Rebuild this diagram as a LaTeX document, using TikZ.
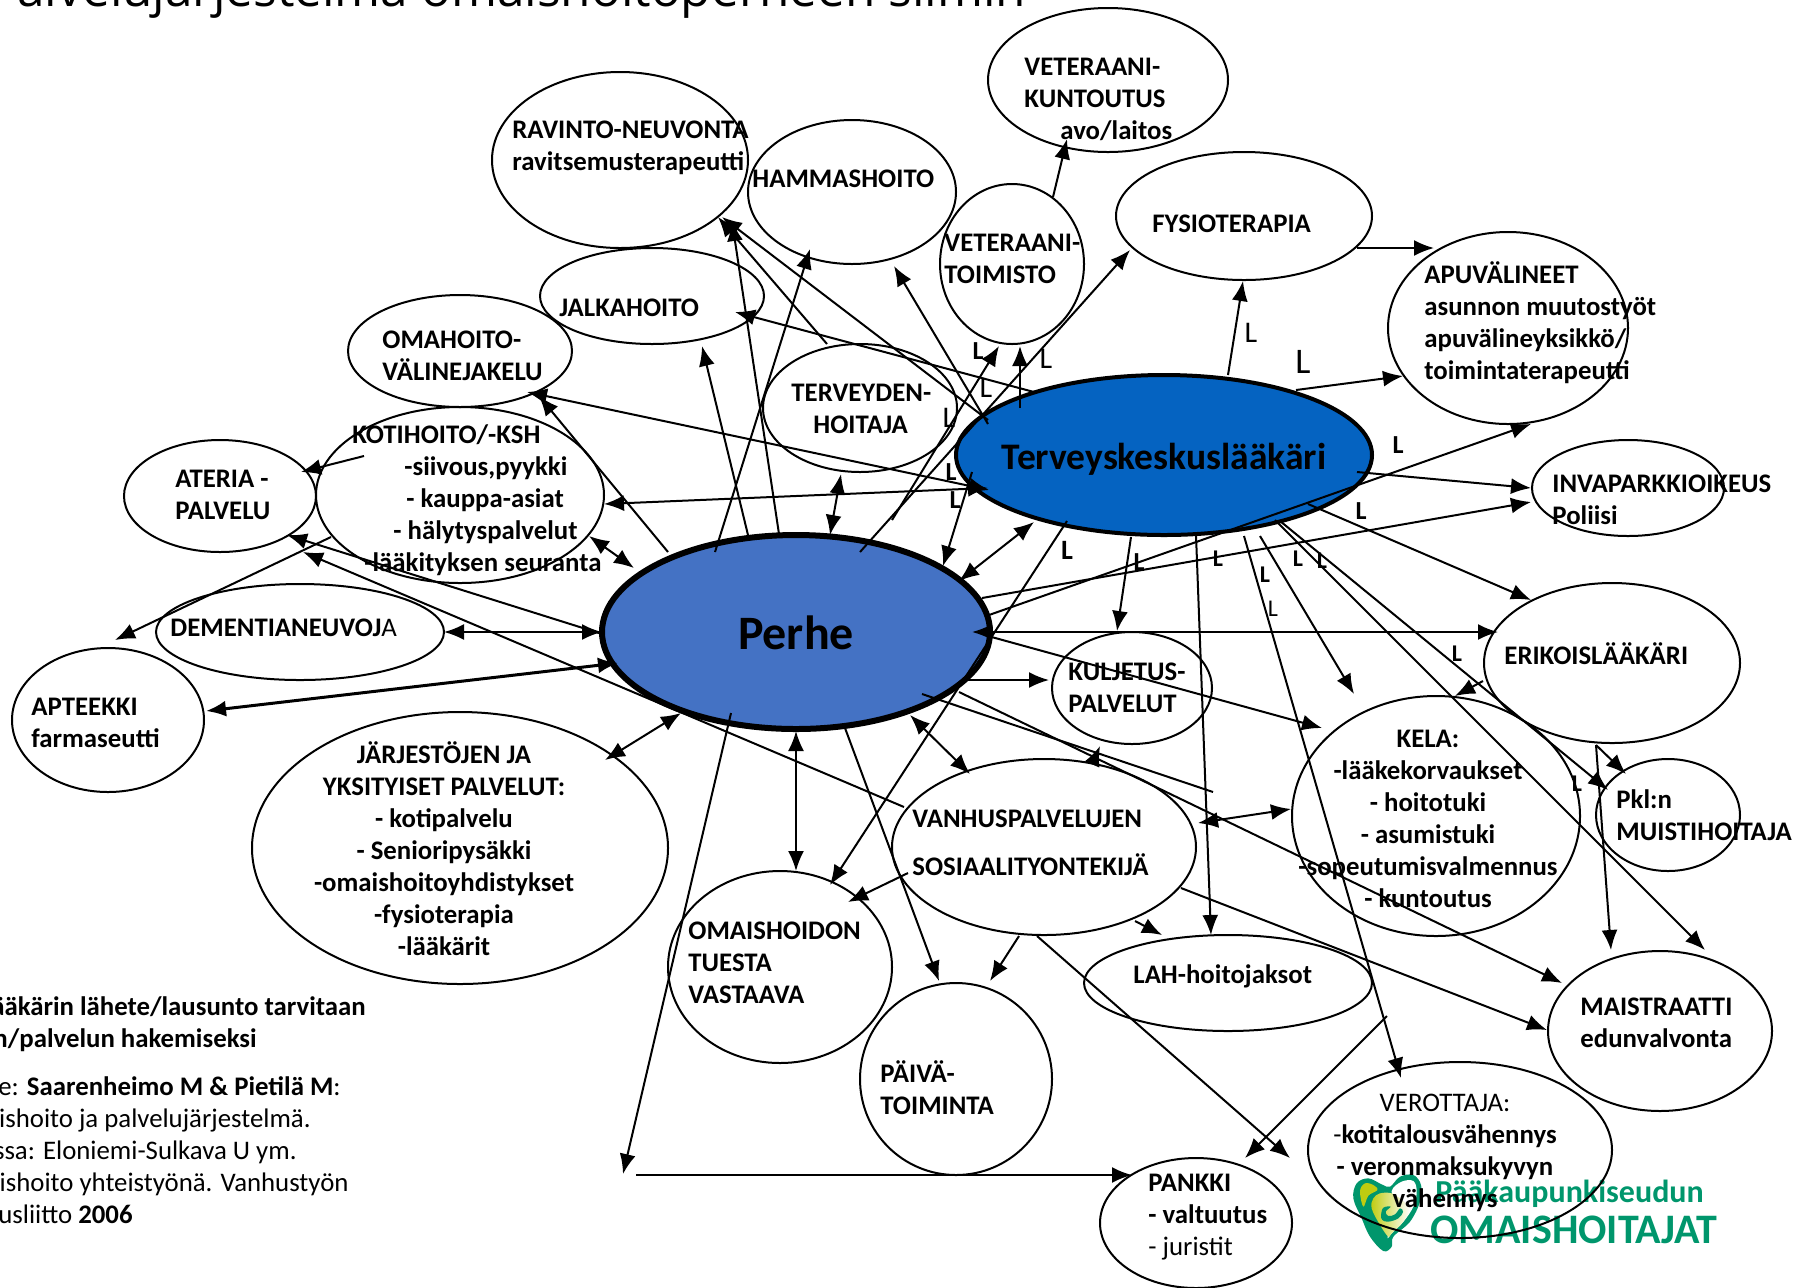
\documentclass[tikz,border=0pt]{standalone}
\usepackage{fontspec}
\setmainfont{Carlito}
\newfontfamily\titlefont{Open Sans}
\usetikzlibrary{arrows.meta,shapes.geometric}
\definecolor{perheblue}{HTML}{4472C4}
\definecolor{tkblue}{HTML}{0563C1}
\definecolor{logogreen}{HTML}{00966C}
\definecolor{logoyellow}{HTML}{BFCC10}
\tikzset{
  el/.style n args={2}{ellipse,draw,line width=1pt,inner sep=0pt,minimum width=#1pt,minimum height=#2pt},
  txt/.style={anchor=north west,yshift=8.4pt,inner sep=0pt,align=left,font=\fontsize{13.4}{16}\selectfont\bfseries,execute at begin node=\strut},
  txtc/.style={txt,anchor=north,align=center},
  note/.style={anchor=base east,inner sep=0pt,font=\fontsize{13.4}{16}\selectfont},
  lbl/.style={inner sep=0pt,font=\fontsize{13}{16}\selectfont\bfseries},
  lbr/.style={inner sep=0pt,font=\fontsize{15}{16}\selectfont},
  cn/.style={line width=1pt,-{Latex[length=10pt,width=8pt]}},
  cb/.style={line width=1pt,{Latex[length=10pt,width=8pt]}-{Latex[length=10pt,width=8pt]}},
  cp/.style={line width=1pt},
}
\newcommand\lnk[5][cn]{\draw[#1] ([shift={(#3)}]#2.center) -- ([shift={(#5)}]#4.center);}
\begin{document}
\begin{tikzpicture}[x=0.5pt,y=-0.5pt]
\useasboundingbox (0,0) rectangle (1808,1287);
% title
\node[anchor=base west,inner sep=0pt,font=\titlefont\fontsize{24.75}{28}\selectfont] (title) at (17,6) {alvelujärjestelmä omaishoitoperheen silmin};
% logo
\begin{scope}[shift={(1345,1165)},x=0.16667pt,y=-0.16667pt]
  \fill[logogreen] plot[smooth cycle,tension=0.6] coordinates {(115,258) (75,215) (50,160) (25,100) (35,55) (70,40) (110,58) (135,65) (165,35) (205,30) (228,60) (225,110) (195,170) (145,215) (140,245)};
  \fill[white] plot[smooth cycle,tension=0.6] coordinates {(140,78) (170,50) (205,48) (215,80) (205,125) (175,170) (140,205) (128,215) (150,130)};
  \fill[logoyellow] plot[smooth cycle,tension=0.6] coordinates {(45,78) (60,55) (85,60) (97,75) (70,92) (55,125)};
  \shade[left color=logoyellow,right color=white] plot[smooth cycle,tension=0.6] coordinates {(80,130) (85,100) (105,85) (140,85) (170,105) (195,130) (175,170) (140,205) (130,215) (105,180)};
  \fill[logogreen] plot[smooth cycle,tension=0.6] coordinates {(108,150) (115,128) (137,125) (122,140) (130,153) (150,148) (165,130) (174,140) (160,160) (130,170) (112,165)};
\end{scope}
\node[anchor=base west,inner sep=0pt,text=logogreen,font=\fontsize{16}{18}\selectfont\bfseries] (logo1) at (1435,1202) {Pääkaupunkiseudun};
\node[anchor=base west,inner sep=0pt,text=logogreen,font=\fontsize{21}{24}\selectfont\bfseries] (logo2) at (1430,1243) {OMAISHOITAJAT};
% ellipses
\node[el={128}{88}] (ravinto) at (620,160) {};
\node[el={104}{72}] (hamma) at (852,192) {};
\node[el={112}{48}] (jalka) at (652,296) {};
\node[el={112}{56}] (oma) at (460,351) {};
\node[el={144}{88}] (koti) at (460,495) {};
\node[el={96}{56}] (ateria) at (220,496) {};
\node[el={97}{64}] (tervh) at (860,408) {};
\node[el={144}{48}] (dem) at (300,632) {};
\node[el={96}{72}] (apt) at (108,720) {};
\node[el={208}{136}] (jarj) at (460,848) {};
\node[el={112}{96}] (omais) at (780,967) {};
\node[el={96}{96}] (paiva) at (956,1079) {};
\node[el={152}{88}] (vanh) at (1044,847) {};
\node[el={80}{56}] (kulj) at (1132,688) {};
\node[el={144}{48}] (lah) at (1228,983) {};
\node[el={144}{120}] (kela) at (1436,816) {};
\node[el={128}{80}] (erik) at (1612,663) {};
\node[el={72}{56}] (pkl) at (1668,815) {};
\node[el={112}{80}] (mais) at (1660,1031) {};
\node[el={152}{88}] (vero) at (1460,1150) {};
\node[el={96}{65}] (pankki) at (1196,1223) {};
\node[el={120}{72}] (vetk) at (1108,80) {};
\node[el={72}{80}] (vett) at (1012,264) {};
\node[el={128}{64}] (fys) at (1244,216) {};
\node[el={120}{96}] (apu) at (1508,328) {};
\node[el={96}{48}] (inva) at (1628,488) {};
\node[el={208}{80},line width=2pt,fill=tkblue] (tk) at (1164,455) {};
\node[el={194}{97},line width=3pt,fill=perheblue] (perhe) at (796,632) {};
% free ends
\coordinate (pankkicorner) at (623,1174);
\coordinate (linestart) at (636,1175);
% connectors
\lnk{koti}{-96,-39}{ateria}{81,-24}
\lnk{perhe}{-128,-80}{oma}{79,45}
\lnk[cb]{oma}{67,41}{tk}{-175,35}
\lnk[cb]{koti}{144,9}{tk}{-176,33}
\lnk{perhe}{-48,-97}{jalka}{50,50}
\lnk{perhe}{-17,-98}{ravinto}{112,61}
\lnk{perhe}{-81,-80}{hamma}{-42,57}
\lnk{tervh}{-33,-64}{ravinto}{98,57}
\lnk{tk}{-176,-35}{ravinto}{102,57}
\lnk{tk}{-176,-31}{hamma}{42,74}
\lnk{tk}{-130,-63}{jalka}{83,16}
\lnk[cb]{tervh}{-19,66}{perhe}{34,-97}
\lnk{perhe}{64,-80}{fys}{-114,34}
\lnk{perhe}{96,-112}{vett}{-13,82}
\lnk{tk}{-144,-47}{vett}{8,82}
\lnk{vett}{41,-67}{vetk}{-41,59}
\lnk{fys}{113,32}{apu}{-74,-80}
\lnk{tk}{64,-80}{fys}{-1,65}
\lnk{tk}{132,-65}{apu}{-105,48}
\lnk{perhe}{193,-17}{apu}{23,96}
\lnk{tk}{193,17}{inva}{-97,0}
\lnk{perhe}{186,-34}{inva}{-97,14}
\lnk{tk}{144,49}{erik}{-81,-63}
\lnk[cb]{tk}{-130,67}{perhe}{163,-51}
\lnk{tk}{-192,17}{perhe}{147,-66}
\lnk{tk}{-33,82}{kulj}{-15,-57}
\lnk{tk}{32,80}{lah}{-17,-48}
\lnk{tk}{80,81}{vero}{-59,-72}
\lnk{tk}{96,81}{kela}{-82,-122}
\lnk{tk}{111,65}{mais}{45,-81}
\lnk{tk}{116,66}{pkl}{-60,-25}
\lnk{erik}{-129,18}{kela}{19,-120}
\lnk{erik}{-16,82}{pkl}{-42,-41}
\lnk{erik}{-16,82}{mais}{-49,-81}
\lnk[cb]{perhe}{176,0}{erik}{-114,-31}
\lnk{perhe}{192,4}{kela}{-114,-88}
\lnk{perhe}{169,48}{kulj}{-83,-8}
\lnk[cb]{perhe}{114,83}{vanh}{-74,-73}
\lnk{vanh}{50,-87}{kulj}{-32,58}
\lnk[cp]{perhe}{126,62}{vanh}{169,-55}
\lnk{perhe}{163,60}{mais}{-98,-48}
\lnk[cb]{vanh}{154,-24}{kela}{-145,-7}
\lnk{vanh}{91,74}{lah}{-66,-48}
\lnk{vanh}{-25,89}{paiva}{34,-98}
\lnk{perhe}{49,96}{paiva}{-17,-98}
\draw[cn] ([shift={(-65,81)}]perhe.center) -- (pankkicorner);
\draw[cn] (linestart) -- ([shift={(-64,-48)}]pankki.center);
\lnk[cb]{perhe}{0,99}{omais}{16,-96}
\lnk{tk}{-97,66}{omais}{50,-82}
\lnk{vanh}{-136,26}{omais}{68,-65}
\lnk{vanh}{-7,89}{pankki}{94,-65}
\lnk{lah}{159,33}{pankki}{49,-65}
\lnk{vanh}{137,41}{mais}{-113,-1}
\lnk[cb]{jarj}{145,-88}{perhe}{-115,81}
\lnk[cb,line width=1.5pt]{apt}{98,-9}{perhe}{-178,31}
\lnk[cb]{dem}{144,0}{perhe}{-194,0}
\lnk{perhe}{-194,2}{ateria}{67,39}
\lnk{vanh}{-140,-40}{ateria}{83,56}
\lnk{koti}{-129,42}{apt}{7,-80}
\lnk[cb]{koti}{129,41}{perhe}{-162,-64}
% texts
\node[txt] (travinto) at (512,137) {RAVINTO-NEUVONTA\\ravitsemusterapeutti};
\node[txt] (thamma) at (752,181) {HAMMASHOITO};
\node[txt] (tjalka) at (559,310) {JALKAHOITO};
\node[txt] (toma) at (382,347) {OMAHOITO-\\VÄLINEJAKELU};
\node[txt] (tkoti) at (352,441) {KOTIHOITO/-KSH\\\hspace*{26pt}-siivous,pyykki\\\hspace*{27pt}- kauppa-asiat\\\hspace*{20.5pt}- hälytyspalvelut\\\hspace*{6pt}-lääkityksen seuranta};
\node[txt] (tateria) at (175,487) {ATERIA -\\PALVELU};
\node[txt] (ttervh) at (791,401) {TERVEYDEN-\\\hspace*{11pt}HOITAJA};
\node[txt] (tdem) at (170,630) {DEMENTIANEUVOJ\textmd{A}};
\node[txt] (tapt) at (31,715) {APTEEKKI\\farmaseutti};
\node[txtc] (tjarj) at (444,758) {JÄRJESTÖJEN JA\\YKSITYISET PALVELUT:\\- kotipalvelu\\- Senioripysäkki\\-omaishoitoyhdistykset\\-fysioterapia\\-lääkärit};
\node[txt] (tomais) at (688,938) {OMAISHOIDON\\TUESTA\\VASTAAVA};
\node[txt] (tpaiva) at (880,1077) {PÄIVÄ-\\TOIMINTA};
\node[txt] (tvanh) at (912,826) {VANHUSPALVELUJEN\\[8pt]SOSIAALITYONTEKIJÄ};
\node[txt] (tkulj) at (1068,679) {KULJETUS-\\PALVELUT};
\node[txt] (tlah) at (1133,977) {LAH-hoitojaksot};
\node[txtc] (tkela) at (1428,746) {KELA:\\-lääkekorvaukset\\- hoitotuki\\- asumistuki\\-sopeutumisvalmennus\\- kuntoutus};
\node[txt] (terik) at (1504,658) {ERIKOISLÄÄKÄRI};
\node[txt] (tpkl) at (1616,806) {Pkl:n\\MUISTIHOITAJA};
\node[txt] (tmais) at (1580,1014) {MAISTRAATTI\\edunvalvonta};
\node[txtc] (tvero) at (1445,1110) {\textmd{VEROTTAJA:}\\\textmd{-}kotitalousvähennys\\- veronmaksukyvyn\\vähennys};
\node[txt] (tpankki) at (1148,1190) {PANKKI\\- valtuutus\\\textmd{- juristit}};
\node[txt] (tvetk) at (1024,75) {VETERAANI-\\KUNTOUTUS\\\hspace*{18pt}avo/laitos};
\node[txt] (tvett) at (944,251) {VETERAANI-\\TOIMISTO};
\node[txt] (tfys) at (1152,226) {FYSIOTERAPIA};
\node[txt] (tapu) at (1424,278) {APUVÄLINEET\\asunnon muutostyöt\\apuvälineyksikkö/\\toimintaterapeutti};
\node[txt] (tinva) at (1552,491) {INVAPARKKIOIKEUS\\Poliisi};
\node[anchor=base,inner sep=0pt,font=\fontsize{24}{28}\selectfont\bfseries] (tperhe) at (796,649) {Perhe};
\node[anchor=base,inner sep=0pt,font=\fontsize{18.75}{20}\selectfont\bfseries] (ttk) at (1164,469) {Terveyskeskuslääkäri};
% notes
\node[note] (n1) at (366,1015) {\bfseries ääkärin lähete/lausunto tarvitaan};
\node[note] (n2) at (257,1047) {\bfseries n/palvelun hakemiseksi};
\node[note] (n3) at (341,1095) {le: \textbf{Saarenheimo M \& Pietilä M}:};
\node[note] (n4) at (311,1127) {ishoito ja palvelujärjestelmä.};
\node[note] (n5) at (297,1159) {ssa: Eloniemi-Sulkava U ym.};
\node[note] (n6) at (349,1191) {ishoito yhteistyönä. Vanhustyön};
\node[note] (n7) at (133,1223) {usliitto \textbf{2006}};
% L marks
\node[lbl] (l1) at (978,351) {L};
\node[lbr] (l2) at (986,388) {L};
\node[lbr] (l3) at (1046,359) {L};
\node[lbr] (l4) at (949,418) {L};
\node[lbl] (l5) at (951,472) {L};
\node[lbl] (l6) at (955,500) {L};
\node[lbr] (l7) at (1251,333) {L};
\node[lbr,font=\fontsize{18}{20}\selectfont] (l8) at (1303,362) {L};
\node[lbl] (l9) at (1398,445) {L};
\node[lbl] (l10) at (1361,511) {L};
\node[lbl,font=\fontsize{14}{16}\selectfont\bfseries] (l11) at (1067,550) {L};
\node[lbl] (l12) at (1139,562) {L};
\node[lbl,font=\fontsize{12}{16}\selectfont\bfseries] (l13) at (1218,559) {L};
\node[lbl,font=\fontsize{12}{16}\selectfont\bfseries] (l14) at (1265,575) {L};
\node[lbr,font=\fontsize{12}{16}\selectfont] (l15) at (1273,609) {L};
\node[lbl,font=\fontsize{12}{16}\selectfont\bfseries] (l16) at (1298,559) {L};
\node[lbl,font=\fontsize{12}{16}\selectfont\bfseries] (l17) at (1322,561) {L};
\node[lbl,font=\fontsize{12}{16}\selectfont\bfseries] (l18) at (1457,654) {L};
\node[lbl,font=\fontsize{12}{16}\selectfont\bfseries] (l19) at (1577,784) {L};
\end{tikzpicture}
\end{document}
